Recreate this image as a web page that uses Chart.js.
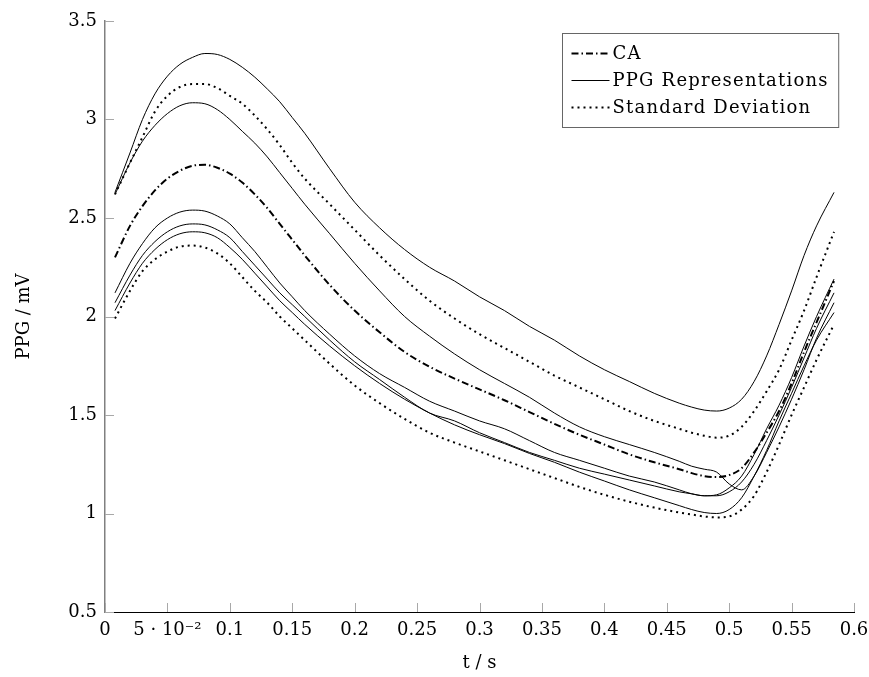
<!DOCTYPE html>
<html lang="en">
<head>
    <meta charset="UTF-8">
    <title>PPG</title>
    <script src="https://cdn.jsdelivr.net/npm/chart.js"></script>
</head>
<style>
	body {
	    margin: 0;
	    padding: 0;
	    background: #fff;
	}
	canvas {
	    display: block;
	}
</style>
<body>
    <canvas id="ppgChart" width="869" height="677"></canvas>

    <script>
        // time axis (s)
        const timeS = [0.008, 0.02, 0.03, 0.04, 0.05, 0.06, 0.07, 0.08, 0.09, 0.10,
            0.11, 0.12, 0.13, 0.14, 0.15, 0.16,
            0.18, 0.20, 0.22, 0.24, 0.26, 0.28, 0.30, 0.32, 0.34, 0.36, 0.38, 0.40, 0.42, 0.44, 0.46,
            0.47, 0.48, 0.49, 0.50, 0.51, 0.52, 0.53, 0.54, 0.55, 0.56, 0.57, 0.584];

        // CA (mV)
        const caValues = [2.30, 2.46, 2.56, 2.64, 2.70, 2.74, 2.765, 2.77, 2.755, 2.725,
            2.68, 2.62, 2.55, 2.47, 2.39, 2.31,
            2.16, 2.03, 1.92, 1.82, 1.745, 1.685, 1.63, 1.575, 1.515, 1.455, 1.40, 1.35, 1.30, 1.26, 1.225,
            1.205, 1.19, 1.185, 1.195, 1.23, 1.31, 1.41, 1.52, 1.66, 1.82, 1.97, 2.18];

        // single PPG representations (mV)
        const ppgA = [2.63, 2.83, 3.00, 3.13, 3.22, 3.28, 3.315, 3.335, 3.33, 3.305,
            3.265, 3.215, 3.155, 3.09, 3.01, 2.93,
            2.75, 2.58, 2.45, 2.34, 2.25, 2.18, 2.10, 2.03, 1.95, 1.88, 1.80, 1.73, 1.67, 1.61, 1.56,
            1.54, 1.525, 1.52, 1.535, 1.58, 1.67, 1.80, 1.96, 2.13, 2.31, 2.46, 2.63];
        const ppgB = [2.62, 2.78, 2.89, 2.97, 3.03, 3.07, 3.085, 3.08, 3.05, 3.00,
            2.94, 2.88, 2.81, 2.73, 2.65, 2.57,
            2.42, 2.27, 2.13, 2.00, 1.90, 1.81, 1.73, 1.66, 1.59, 1.51, 1.44, 1.39, 1.35, 1.31, 1.265,
            1.24, 1.225, 1.21, 1.15, 1.12, 1.19, 1.31, 1.44, 1.58, 1.73, 1.89, 2.07];
        const ppgC = [2.12, 2.27, 2.37, 2.45, 2.50, 2.53, 2.54, 2.535, 2.51, 2.47,
            2.40, 2.33, 2.25, 2.17, 2.10, 2.03,
            1.91, 1.80, 1.71, 1.64, 1.57, 1.52, 1.47, 1.43, 1.37, 1.31, 1.27, 1.23, 1.19, 1.16, 1.12,
            1.10, 1.09, 1.095, 1.13, 1.19, 1.30, 1.43, 1.55, 1.69, 1.85, 2.00, 2.19];
        const ppgD = [2.07, 2.21, 2.31, 2.38, 2.43, 2.46, 2.47, 2.465, 2.44, 2.40,
            2.33, 2.26, 2.19, 2.12, 2.06, 2.00,
            1.88, 1.77, 1.68, 1.59, 1.51, 1.47, 1.41, 1.36, 1.31, 1.27, 1.23, 1.20, 1.17, 1.14, 1.11,
            1.10, 1.09, 1.09, 1.11, 1.16, 1.25, 1.37, 1.50, 1.64, 1.79, 1.94, 2.12];
        const ppgE = [2.03, 2.17, 2.27, 2.34, 2.39, 2.42, 2.43, 2.425, 2.40, 2.35,
            2.29, 2.22, 2.15, 2.08, 2.02, 1.96,
            1.85, 1.75, 1.66, 1.58, 1.51, 1.45, 1.40, 1.355, 1.305, 1.26, 1.21, 1.165, 1.12, 1.08, 1.04,
            1.02, 1.005, 1.00, 1.02, 1.08, 1.19, 1.32, 1.47, 1.61, 1.75, 1.88, 2.02];

        // standard deviation band (mV)
        const stdUpper = [2.62, 2.78, 2.91, 3.04, 3.12, 3.165, 3.18, 3.18, 3.16, 3.12,
            3.08, 3.02, 2.95, 2.87, 2.78, 2.70,
            2.57, 2.44, 2.31, 2.19, 2.08, 1.99, 1.91, 1.84, 1.77, 1.70, 1.64, 1.58, 1.52, 1.47, 1.43,
            1.41, 1.395, 1.385, 1.395, 1.44, 1.52, 1.62, 1.73, 1.88, 2.03, 2.20, 2.43];
        const stdLower = [1.99, 2.13, 2.23, 2.29, 2.33, 2.355, 2.36, 2.35, 2.32, 2.27,
            2.20, 2.13, 2.07, 2.00, 1.94, 1.88,
            1.76, 1.65, 1.56, 1.48, 1.41, 1.36, 1.315, 1.27, 1.225, 1.18, 1.135, 1.095, 1.06, 1.03, 1.005,
            0.995, 0.985, 0.98, 0.985, 1.02, 1.09, 1.21, 1.35, 1.50, 1.64, 1.78, 1.96];

        const serif = '"DejaVu Serif", serif';
        const dashDot = [7, 3, 1.5, 3];
        const dotted = [2, 4];

        const toPoints = values => values.map((v, i) => ({ x: timeS[i], y: v }));

        function serie(label, values, dash, width) {
            return {
                label: label,
                data: toPoints(values),
                borderColor: '#000',
                borderWidth: width,
                borderDash: dash,
                borderCapStyle: 'butt',
                pointRadius: 0,
                fill: false,
                cubicInterpolationMode: 'monotone'
            };
        }

        // Marcas de los ejes hacia dentro
        const inwardTicks = {
            id: 'inwardTicks',
            afterDatasetsDraw(chart) {
                const { ctx, scales: { x, y } } = chart;
                ctx.save();
                ctx.strokeStyle = '#a8a8a8';
                ctx.lineWidth = 1;
                ctx.beginPath();
                x.ticks.forEach(t => {
                    const px = Math.round(x.getPixelForValue(t.value)) + 0.5;
                    ctx.moveTo(px, y.bottom);
                    ctx.lineTo(px, y.bottom - 9);
                });
                y.ticks.forEach(t => {
                    const py = Math.round(y.getPixelForValue(t.value)) + 0.5;
                    ctx.moveTo(x.left, py);
                    ctx.lineTo(x.left + 9, py);
                });
                ctx.stroke();
                ctx.restore();
            }
        };

        // Leyenda en la esquina superior derecha
        const legendBox = {
            id: 'legendBox',
            afterDraw(chart) {
                const ctx = chart.ctx;
                const area = chart.chartArea;
                const entries = [];
                chart.data.datasets.forEach(ds => {
                    if (!entries.some(e => e.label === ds.label)) entries.push(ds);
                });
                ctx.save();
                ctx.font = '18px ' + serif;
                ctx.letterSpacing = '1.2px';
                const sample = 38, gap = 3, padL = 9, padR = 10, rowH = 27;
                const textW = Math.max(...entries.map(e => ctx.measureText(e.label).width));
                const w = padL + sample + gap + textW + padR;
                const h = rowH * entries.length + 13;
                const bx = Math.round(area.right - 16 - w) + 0.5;
                const by = Math.round(area.top + 12) + 0.5;
                ctx.fillStyle = '#fff';
                ctx.fillRect(bx, by, w, h);
                ctx.strokeStyle = '#666';
                ctx.lineWidth = 1;
                ctx.strokeRect(bx, by, w, h);
                entries.forEach((e, i) => {
                    const cy = by + 20 + i * rowH;
                    ctx.beginPath();
                    ctx.setLineDash(e.borderDash || []);
                    ctx.lineWidth = e.borderWidth;
                    ctx.strokeStyle = '#000';
                    ctx.moveTo(bx + padL, cy);
                    ctx.lineTo(bx + padL + sample, cy);
                    ctx.stroke();
                    ctx.setLineDash([]);
                    ctx.fillStyle = '#000';
                    ctx.textBaseline = 'middle';
                    ctx.fillText(e.label, bx + padL + sample + gap, cy + 1);
                });
                ctx.restore();
            }
        };

        const fmt = v => String(+v.toFixed(2));

        new Chart(document.getElementById('ppgChart'), {
            type: 'line',
            data: {
                datasets: [
                    serie('CA', caValues, dashDot, 2),
                    serie('PPG Representations', ppgA, [], 1),
                    serie('PPG Representations', ppgB, [], 1),
                    serie('PPG Representations', ppgC, [], 1),
                    serie('PPG Representations', ppgD, [], 1),
                    serie('PPG Representations', ppgE, [], 1),
                    serie('Standard Deviation', stdUpper, dotted, 2),
                    serie('Standard Deviation', stdLower, dotted, 2)
                ]
            },
            options: {
                responsive: false,
                animation: false,
                layout: { padding: { top: 21, right: 15, bottom: 0, left: 0 } },
                plugins: {
                    legend: { display: false },
                    tooltip: { enabled: false }
                },
                scales: {
                    x: {
                        type: 'linear',
                        min: 0,
                        max: 0.6,
                        afterFit: s => {
                            s.height = 65;
                            s.paddingLeft = 0;
                            s.paddingRight = 0;
                        },
                        grid: { display: false, drawTicks: false },
                        border: { display: true, color: '#000', width: 1 },
                        ticks: {
                            stepSize: 0.05,
                            padding: 8,
                            autoSkip: false,
                            maxRotation: 0,
                            minRotation: 0,
                            color: '#000',
                            font: { family: serif, size: 18 },
                            callback: v => Math.abs(v - 0.05) < 1e-9 ? '5 · 10⁻²' : fmt(v)
                        },
                        title: {
                            display: true,
                            text: 't / s',
                            color: '#000',
                            font: { family: serif, size: 18 },
                            padding: { top: 0, bottom: 3 }
                        }
                    },
                    y: {
                        min: 0.5,
                        max: 3.5,
                        afterFit: s => {
                            s.width = 105;
                            s.paddingTop = 0;
                            s.paddingBottom = 0;
                        },
                        grid: { display: false, drawTicks: false },
                        border: { display: true, color: '#808080', width: 1.5 },
                        ticks: {
                            stepSize: 0.5,
                            padding: 8,
                            color: '#000',
                            font: { family: serif, size: 18 },
                            callback: v => fmt(v)
                        },
                        title: {
                            display: true,
                            text: 'PPG / mV',
                            color: '#000',
                            font: { family: serif, size: 18 },
                            padding: { top: 14, bottom: 0 }
                        }
                    }
                }
            },
            plugins: [inwardTicks, legendBox]
        });
    </script>
</body>
</html>
